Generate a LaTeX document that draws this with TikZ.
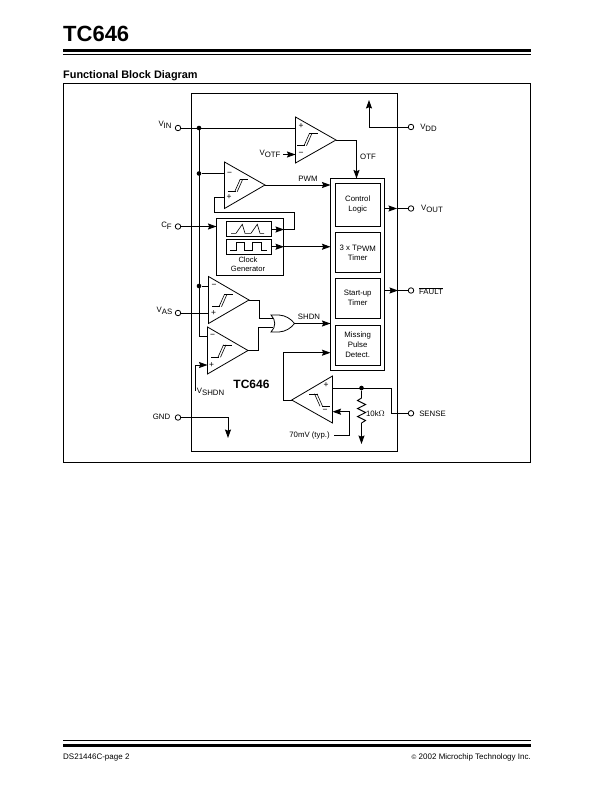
\documentclass[tikz,border=0pt]{standalone}
\usepackage{fontspec}
\setmainfont{Liberation Sans}
\usetikzlibrary{arrows.meta}
\newcommand{\sbs}[1]{\raisebox{-1.8bp}{#1}}
\newcommand{\hystsym}[3]{\begin{scope}[shift={(#1,#2)},xscale=#3,hystline]
\draw (-10.5,6.2) -- (-2.5,6.2);
\draw (-3.5,6.2) -- (2,-6.2);
\draw (-1,6.2) -- (4.5,-6.2);
\draw (1.5,-6.2) -- (10,-6.2);
\end{scope}}
\tikzset{
 wire/.style={line width=.9bp},
 awire/.style={line width=.9bp,-{Stealth[length=8.5bp,width=6bp,inset=1.2bp]}},
 hystline/.style={line width=.6bp},
 comparator/.style={line width=.8bp,line join=miter},
 lab/.style={inner sep=0pt,font=\fontsize{7.8bp}{10bp}\selectfont,align=center},
 sign/.style={inner sep=0pt,font=\fontsize{8.5bp}{8.5bp}\selectfont},
 blk/.style={draw,line width=.9bp,inner sep=0pt,font=\fontsize{7.8bp}{10bp}\selectfont,align=center},
 pin/.style={circle,draw,fill=white,line width=.8bp,minimum size=5.5bp,inner sep=0pt},
 junction/.style={circle,fill=black,minimum size=4.6bp,inner sep=0pt},
}
\begin{document}
\begin{tikzpicture}[x=1bp,y=-1bp]
\useasboundingbox (0,0) rectangle (612,792);
\fill[white] (0,0) rectangle (612,792);
% header
\node[inner sep=0pt,anchor=west,font=\fontsize{22bp}{22bp}\bfseries\selectfont] (title) at (63,34) {TC646};
\draw[line width=3bp] (63,51) -- (531,51);
\draw[line width=.8bp] (63,54.5) -- (531,54.5);
\node[inner sep=0pt,anchor=west,font=\fontsize{10.9bp}{11bp}\bfseries\selectfont] (subt) at (63,76) {Functional Block Diagram};
% frames
\node[draw,line width=.8bp,inner sep=0pt,minimum width=467bp,minimum height=378.5bp] (frame) at (297,272.75) {};
\node[draw,line width=.9bp,inner sep=0pt,minimum width=206bp,minimum height=357.5bp] (chip) at (294.5,272.25) {};
% footer
\draw[line width=.8bp] (63,740.7) -- (531,740.7);
\draw[line width=3bp] (63,745.5) -- (531,745.5);
\node[inner sep=0pt,anchor=west,font=\fontsize{8bp}{8bp}\selectfont] (fl) at (63,757.5) {DS21446C-page 2};
\node[inner sep=0pt,anchor=east,font=\fontsize{8bp}{8bp}\selectfont] (fr) at (531,757.5) {\raisebox{.5bp}{\fontsize{6.5bp}{6.5bp}\selectfont\textcopyright} 2002 Microchip Technology Inc.};
% pins
\node[pin] (vin) at (178,128) {};
\node[pin] (vdd) at (411,127) {};
\node[pin] (cf) at (178,226.5) {};
\node[pin] (vas) at (178,313) {};
\node[pin] (gnd) at (178,417.5) {};
\node[pin] (vout) at (411,208.5) {};
\node[pin] (fault) at (411,290.5) {};
\node[pin] (sense) at (411,413.3) {};
% pin labels
\node[lab] (lvin) at (165,125) {V\sbs{IN}};
\node[lab] (lvotf) at (270,153.5) {V\sbs{OTF}};
\node[lab] (lvdd) at (428.5,128) {V\sbs{DD}};
\node[lab] (lotf) at (368,156.5) {OTF};
\node[lab] (lpwm) at (308,178.5) {PWM};
\node[lab] (lvout) at (432,208.5) {V\sbs{OUT}};
\node[lab] (lfault) at (431,291) {$\overline{\hbox{FAULT}}$};
\node[lab] (lcf) at (166.5,225.5) {C\sbs{F}};
\node[lab] (lvas) at (164.5,310.5) {V\sbs{AS}};
\node[lab] (lshdn) at (309,316.5) {SHDN};
\node[lab] (lvshdn) at (210.5,392) {V\sbs{SHDN}};
\node[lab] (lgnd) at (161.5,416.5) {GND};
\node[lab] (lsense) at (432.5,413.5) {SENSE};
\node[lab] (lten) at (375.5,414) {10k$\Omega$};
\node[lab] (l70) at (309.5,435) {70mV (typ.)};
\node[inner sep=0pt,font=\fontsize{12bp}{12bp}\bfseries\selectfont] (chipname) at (251.5,384) {TC646};
% comparators
\draw[comparator] (295.5,117) -- (295.5,163) -- (336,140) -- cycle;
\draw[comparator] (224.5,162) -- (224.5,208.5) -- (265,185) -- cycle;
\draw[comparator] (208.5,276.5) -- (208.5,323.5) -- (249,300) -- cycle;
\draw[comparator] (207.5,327) -- (207.5,374) -- (248,350.5) -- cycle;
\draw[comparator] (332.5,376) -- (332.5,423) -- (291.7,400) -- cycle;
\hystsym{307.5}{139.5}{1}
\hystsym{238.2}{185.5}{1}
\hystsym{222.5}{300.5}{1}
\hystsym{221.5}{351}{1}
\hystsym{319}{400}{-1}
\node[sign] (s1p) at (301,125.7) {+};
\node[sign] (s1m) at (301,154) {\textminus};
\node[sign] (s2m) at (229.5,173.5) {\textminus};
\node[sign] (s2p) at (229,197) {+};
\node[sign] (s3m) at (214,286) {\textminus};
\node[sign] (s3p) at (213.5,313) {+};
\node[sign] (s4m) at (212.5,336) {\textminus};
\node[sign] (s4p) at (211.5,365) {+};
\node[sign] (s5p) at (326,385) {+};
\node[sign] (s5m) at (325,411) {\textminus};
% blocks
\node[blk,minimum width=54bp,minimum height=191.5bp] (logic) at (357.5,274.25) {};
\node[blk,minimum width=44.5bp,minimum height=43bp] (ctl) at (357.7,204.7) {Control\\Logic};
\node[blk,minimum width=44.5bp,minimum height=39.6bp] (tpwm) at (357.7,252.5) {3 x T\sbs{PWM}\\Timer};
\node[blk,minimum width=44.5bp,minimum height=40bp] (start) at (357.7,298.3) {Start-up\\Timer};
\node[blk,minimum width=44.5bp,minimum height=39.7bp] (miss) at (357.7,345.2) {Missing\\Pulse\\Detect.};
\node[blk,minimum width=67bp,minimum height=56.5bp] (clk) at (250,246.75) {};
\node[blk,minimum width=45bp,minimum height=14.5bp] (ramp) at (249,229) {};
\node[blk,minimum width=45bp,minimum height=15.5bp] (pulse) at (249,246.75) {};
\node[lab,font=\fontsize{7.6bp}{9bp}\selectfont] (clklab) at (248,264) {Clock\\Generator};
% waveforms
\draw[hystline] (231,233.3) -- (236,233.3) -- (242.3,224.3) -- (245,233.3) -- (251,233.3) -- (257.3,224.3) -- (260,233.3) -- (264,233.3);
\draw[hystline] (230,250) -- (236,250) -- (236,242.3) -- (244,242.3) -- (244,250) -- (252.7,250) -- (252.7,242.3) -- (261.7,242.3) -- (261.7,250) -- (266.7,250);
% OR gate
\draw[line width=.8bp] (271,315) -- (279,315) .. controls (286,315.5) and (291,319) .. (294.5,323.5) .. controls (291,328) and (286,331.5) .. (279,332) -- (271,332) .. controls (276,327) and (276,320) .. (271,315) -- cycle;
\node[inner sep=0pt,minimum size=0pt] (orout) at (294.5,323.5) {};
% junctions
\node[junction] (j1) at (199,128) {};
\node[junction] (j2) at (199,173.5) {};
\node[junction] (j3) at (199,286) {};
\node[junction] (j4) at (361.5,388) {};
% named points
\coordinate (c1plus) at (295.5,128);
\coordinate (c1minus) at (295.5,154.5);
\coordinate (c1out) at (336,140);
\coordinate (c2minus) at (224.5,173.5);
\coordinate (c2plus) at (224.5,197.5);
\coordinate (c2out) at (265,185);
\coordinate (c3minus) at (208.5,286);
\coordinate (c3plus) at (208.5,313);
\coordinate (c3out) at (249,300);
\coordinate (c4minus) at (207.5,336);
\coordinate (c4plus) at (207.5,365);
\coordinate (c4out) at (248,350.5);
\coordinate (c5plus) at (332.5,388);
\coordinate (c5minus) at (332.5,411.7);
\coordinate (c5out) at (291.7,400);
% connectors
\draw[wire] (vin) -- (c1plus);
\draw[wire] (j1.center) |- (c4minus);
\draw[wire] (j2) -- (c2minus);
\draw[wire] (j3) -- (c3minus);
\coordinate (votfs) at (283,154.5);
\draw[awire] (votfs) -- (c1minus);
\coordinate (vddtip) at (369,100);
\draw[awire] (vdd) -| (vddtip);
\coordinate (ctltop) at (356.5,178.5);
\draw[awire] (c1out) -| (ctltop);
\coordinate (pwmtip) at (330.5,185);
\draw[awire] (c2out) -- (pwmtip);
\coordinate (fb1) at (214,197.5);
\coordinate (fb2) at (214,212.5);
\coordinate (fb3) at (294.5,212.5);
\coordinate (fb4) at (294.5,229.5);
\coordinate (ramptip) at (284,229.5);
\draw[wire] (c2plus) -- (fb1) -- (fb2) -- (fb3) -- (fb4) -- (ramptip);
\coordinate (rampr) at (271.5,229.5);
\draw[awire] (rampr) -- (ramptip);
\coordinate (cftip) at (216.5,226.5);
\draw[awire] (cf) -- (cftip);
\coordinate (pulser) at (271.5,246.75);
\coordinate (pulsetip) at (284,246.75);
\coordinate (tpwmin) at (330.5,246.75);
\draw[awire] (pulser) -- (pulsetip);
\draw[awire] (pulsetip) -- (tpwmin);
\draw[wire] (vas) -- (c3plus);
\coordinate (or1) at (273,318);
\coordinate (or2) at (273,327.5);
\draw[wire] (c3out) -- (259,300) |- (or1);
\draw[wire] (c4out) -- (258.5,350.5) |- (or2);
\coordinate (shdntip) at (330.5,323.5);
\draw[awire] (orout) -- (shdntip);
\coordinate (vshdns) at (195.5,391);
\draw[awire] (vshdns) |- (c4plus);
\coordinate (misstip) at (330.5,352.7);
\draw[awire] (c5out) -- (283.7,400) |- (misstip);
\coordinate (voutm) at (397,208.5);
\coordinate (vouts) at (384.5,208.5);
\draw[awire] (vouts) -- (voutm);
\draw[wire] (voutm) -- (vout);
\coordinate (faultm) at (398,290.5);
\coordinate (faults) at (384.5,290.5);
\draw[awire] (faults) -- (faultm);
\draw[wire] (faultm) -- (fault);
\draw[wire] (c5plus) -- (391.7,388) |- (sense);
\coordinate (rtop) at (361.5,398);
\coordinate (rbot) at (361.5,423);
\coordinate (rtip) at (361.5,444);
\draw[wire,line join=miter] (j4) -- (rtop) -- (357.5,400.5) -- (365.5,404.5) -- (357.5,408.5) -- (365.5,412.5) -- (357.5,416.5) -- (365.5,420.5) -- (rbot);
\draw[awire] (rbot) -- (rtip);
\coordinate (refs) at (334,435);
\draw[awire] (refs) -- (349.5,435) |- (c5minus);
\coordinate (gndtip) at (228,438);
\draw[awire] (gnd) -| (gndtip);
\end{tikzpicture}
\end{document}
